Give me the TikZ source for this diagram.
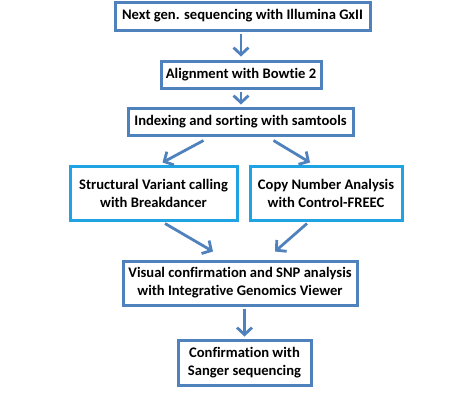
\documentclass[tikz,border=0pt]{standalone}
\usepackage{fontspec}
\setmainfont[Ligatures=NoCommon]{Carlito}
\usetikzlibrary{arrows.meta,calc}
\definecolor{boxblue}{HTML}{4F81BD}
\definecolor{boxcyan}{HTML}{1FA3E3}
\tikzset{
  flowbox/.style={draw=boxblue, line width=3pt, fill=white, align=center,
    font=\bfseries\fontsize{14.6pt}{18pt}\selectfont, inner sep=0pt},
  cyanbox/.style={flowbox, draw=boxcyan},
  flowarrow/.style={draw=boxblue, line width=2.8pt,
    -{Straight Barb[length=7pt,width=15pt,line width=2.8pt]}}
}
\begin{document}
\begin{tikzpicture}[x=1pt,y=-1pt]
\useasboundingbox (0,0) rectangle (474,400);
\node[flowbox, minimum width=255pt, minimum height=28pt] (b1) at (242.5,16) {Next gen. sequencing with Illumina GxII};
\node[flowbox, minimum width=160pt, minimum height=27pt] (b2) at (241,74.5) {Alignment with Bowtie 2};
\node[flowbox, minimum width=225pt, minimum height=27pt] (b3) at (240.5,121.5) {Indexing and sorting with samtools};
\node[cyanbox, minimum width=167pt, minimum height=54pt] (b4) at (153.5,193) {Structural Variant calling\\with Breakdancer};
\node[cyanbox, minimum width=152pt, minimum height=54pt] (b5) at (326,193) {Copy Number Analysis\\with Control-FREEC};
\node[flowbox, minimum width=234pt, minimum height=44pt] (b6) at (240,283) {Visual confirmation and SNP analysis\\with Integrative Genomics Viewer};
\node[flowbox, minimum width=133pt, minimum height=45pt] (b7) at (244.5,362.5) {Confirmation with\\Sanger sequencing};
\draw[flowarrow, shorten <=2pt, shorten >=3pt] (b2.north |- b1.south) -- (b2.north);
\draw[flowarrow, shorten <=2pt, shorten >=2pt] (b2.south) -- (b2.south |- b3.north);
\draw[flowarrow] ([xshift=-37pt,yshift=-4pt]b3.south) -- ([xshift=9pt,yshift=2pt]b4.north);
\draw[flowarrow] ([xshift=33pt,yshift=-4pt]b3.south) -- ([xshift=-16pt,yshift=2pt]b5.north);
\draw[flowarrow] ([xshift=11.5pt,yshift=-2pt]b4.south) -- ([xshift=-27pt,yshift=8pt]b6.north);
\draw[flowarrow] ([xshift=-19pt,yshift=-2pt]b5.south) -- ([xshift=35pt,yshift=8pt]b6.north);
\draw[flowarrow, shorten <=2pt, shorten >=2pt] (b7.north |- b6.south) -- (b7.north);
\end{tikzpicture}
\end{document}
